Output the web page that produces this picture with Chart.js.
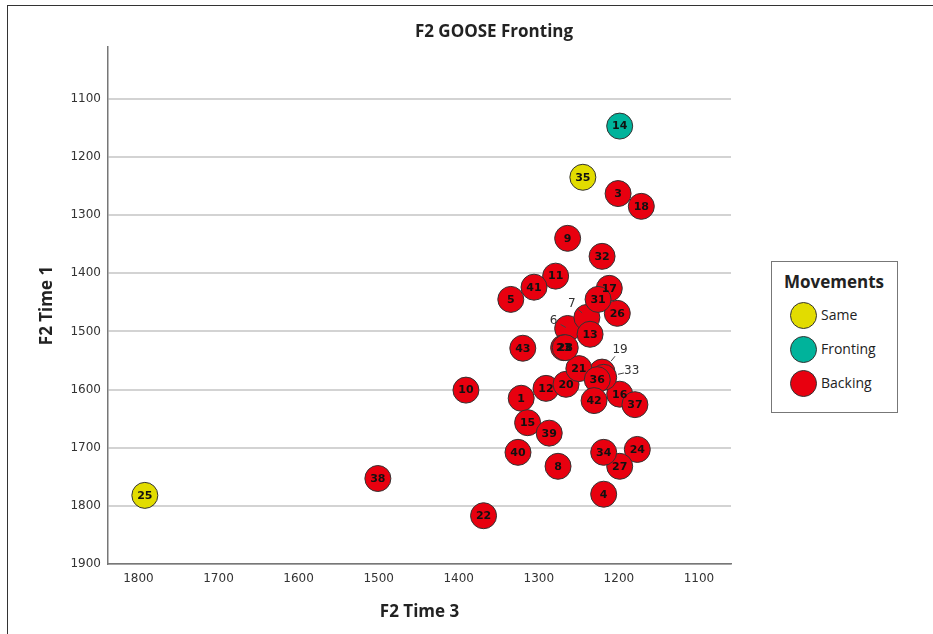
<!DOCTYPE html>
<html><head><meta charset="utf-8">
<script src="https://cdn.jsdelivr.net/npm/chart.js@4"></script>
<style>
html,body{margin:0;padding:0;background:#fff;overflow:hidden}
#wrap{position:relative;width:933px;height:634px;overflow:hidden}
#frame{position:absolute;left:7px;top:5px;width:960px;height:660px;border:1px solid #333;box-sizing:border-box}
canvas{position:absolute;left:0;top:0}
#legend{position:absolute;left:771px;top:261px;width:127px;height:152px;border:1.5px solid #777;box-sizing:border-box;background:#fff;font-family:'Open Sans',sans-serif;color:#222}
#legend .lt{position:absolute;left:0;width:124px;top:8px;text-align:center;font-weight:700;font-size:17px;line-height:24px}
#legend .it{position:absolute;left:18px;height:28px}
#legend .dot{position:absolute;left:0;top:0;width:27px;height:27px;border-radius:50%;border:1px solid #333;box-sizing:border-box}
#legend .tx{position:absolute;left:31px;top:3px;font-size:14px;line-height:20px;white-space:nowrap}
</style></head>
<body>
<div id="wrap">
<div id="frame"></div>
<canvas id="c" width="933" height="634"></canvas>
<div id="legend"></div>
</div>
<script>
const titleText = 'F2 GOOSE Fronting';
const xTitle = 'F2 Time 3';
const yTitle = 'F2 Time 1';
const legendTitle = 'Movements';
const xTicks = [1800, 1700, 1600, 1500, 1400, 1300, 1200, 1100];
const yTicks = [1100, 1200, 1300, 1400, 1500, 1600, 1700, 1800, 1900];
const seriesNames = ['Same', 'Fronting', 'Backing'];
const seriesColors = ['#e2dc00', '#00b39b', '#e8000f'];

const sameIds = [25, 35];
const sameX = [1792, 1245];
const sameY = [1782, 1235];

const frontIds = [14];
const frontX = [1199];
const frontY = [1147];

const backIds = [1, 3, 4, 5, 6, 7, 8, 9, 10, 11, 12, 13, 15, 16, 17, 18, 19, 20, 21, 22, 23, 24, 26, 27, 28, 31, 32, 33, 34, 36, 37, 38, 39, 40, 41, 42, 43];
const backX = [1322, 1201, 1219, 1335, 1264, 1240, 1276, 1264, 1391, 1279, 1291, 1236, 1314, 1199, 1212, 1172, 1221, 1266, 1250, 1369, 1269, 1177, 1202, 1199, 1267, 1226, 1221, 1219, 1219, 1227, 1180, 1501, 1287, 1326, 1306, 1231, 1320];
const backY = [1615, 1263, 1780, 1445, 1495, 1476, 1732, 1340, 1601, 1405, 1598, 1505, 1657, 1608, 1426, 1285, 1570, 1591, 1564, 1817, 1528, 1703, 1469, 1732, 1528, 1445, 1371, 1579, 1708, 1583, 1626, 1753, 1675, 1708, 1424, 1619, 1529];

// label offsets (pixels) for cases whose markers are hidden under neighbours
const calloutOffsets = {6: [-14, -8], 7: [-15, -14], 19: [18, -22], 33: [28, -6]};

function pts(xs, ys) { return xs.map((x, i) => ({x: x, y: ys[i]})); }

const seriesData = [
  {ids: sameIds, data: pts(sameX, sameY)},
  {ids: frontIds, data: pts(frontX, frontY)},
  {ids: backIds, data: pts(backX, backY)}
];

const labelPlugin = {
  id: 'ptlabels',
  afterDatasetsDraw(chart, args, opts) {
    const ctx = chart.ctx;
    ctx.save();
    ctx.textAlign = 'center';
    ctx.textBaseline = 'middle';
    chart.data.datasets.forEach((ds, di) => {
      const meta = chart.getDatasetMeta(di);
      meta.data.forEach((el, i) => {
        const id = ds.ids[i];
        const co = opts.callouts[id];
        if (co) {
          const lx = el.x + co[0], ly = el.y + co[1];
          ctx.font = '12px "DejaVu Sans"';
          ctx.fillStyle = '#333';
          ctx.fillText(String(id), lx, ly);
          const dx = el.x - lx, dy = el.y - ly, d = Math.hypot(dx, dy);
          const ux = dx / d, uy = dy / d;
          ctx.beginPath();
          ctx.moveTo(lx + ux * 8, ly + uy * 8);
          ctx.lineTo(lx + ux * 14, ly + uy * 14);
          ctx.strokeStyle = '#444';
          ctx.lineWidth = 1;
          ctx.stroke();
        } else {
          ctx.font = 'bold 11px "DejaVu Sans"';
          ctx.fillStyle = '#111';
          ctx.fillText(String(id), el.x, el.y + 0.5);
        }
      });
    });
    ctx.restore();
  }
};

const titlePlugin = {
  id: 'titles',
  afterDraw(chart) {
    const ctx = chart.ctx;
    const ca = chart.chartArea;
    ctx.save();
    ctx.fillStyle = '#222';
    ctx.textAlign = 'center';
    ctx.textBaseline = 'middle';
    ctx.font = 'bold 17px "Open Sans"';
    ctx.fillText(titleText, 494, 32);
    ctx.fillText(xTitle, (ca.left + ca.right) / 2, 612);
    ctx.translate(47, (ca.top + ca.bottom) / 2);
    ctx.rotate(-Math.PI / 2);
    ctx.fillText(yTitle, 0, 0);
    ctx.restore();
  }
};

const tickFont = {family: 'DejaVu Sans', size: 12};
const plainTick = v => String(v);

new Chart(document.getElementById('c'), {
  type: 'scatter',
  data: {
    datasets: seriesData.map((s, i) => ({
      label: seriesNames[i],
      ids: s.ids,
      data: s.data,
      backgroundColor: seriesColors[i],
      borderColor: '#333',
      borderWidth: 1,
      pointRadius: 13,
      pointHoverRadius: 13
    }))
  },
  options: {
    responsive: false,
    animation: false,
    events: [],
    layout: {padding: {left: 0, top: 47, right: 202, bottom: 0}},
    plugins: {
      legend: {display: false},
      tooltip: {enabled: false},
      title: {display: false},
      ptlabels: {callouts: calloutOffsets}
    },
    scales: {
      x: {
        type: 'linear',
        reverse: true,
        min: 1060,
        max: 1838,
        afterBuildTicks: s => { s.ticks = xTicks.map(v => ({value: v})); },
        afterFit: s => { s.height = 70; },
        grid: {display: false, drawTicks: false},
        border: {display: true, color: '#777', width: 1.5},
        ticks: {padding: 8, color: '#333', font: tickFont, maxRotation: 0, autoSkip: false, callback: plainTick}
      },
      y: {
        type: 'linear',
        reverse: true,
        min: 1011,
        max: 1900,
        afterBuildTicks: s => { s.ticks = yTicks.map(v => ({value: v})); },
        afterFit: s => { s.width = 108; },
        grid: {display: true, drawTicks: false, color: '#d3d3d3', lineWidth: 2},
        border: {display: true, color: '#777', width: 1.5},
        ticks: {padding: 7, color: '#333', font: tickFont, autoSkip: false, callback: plainTick}
      }
    }
  },
  plugins: [labelPlugin, titlePlugin]
});

// legend
const lg = document.getElementById('legend');
const lt = document.createElement('div');
lt.className = 'lt';
lt.textContent = legendTitle;
lg.appendChild(lt);
seriesNames.forEach((n, i) => {
  const it = document.createElement('div');
  it.className = 'it';
  it.style.top = (40 + i * 34) + 'px';
  const dot = document.createElement('div');
  dot.className = 'dot';
  dot.style.background = seriesColors[i];
  const tx = document.createElement('div');
  tx.className = 'tx';
  tx.textContent = n;
  it.appendChild(dot);
  it.appendChild(tx);
  lg.appendChild(it);
});
</script>
</body></html>
